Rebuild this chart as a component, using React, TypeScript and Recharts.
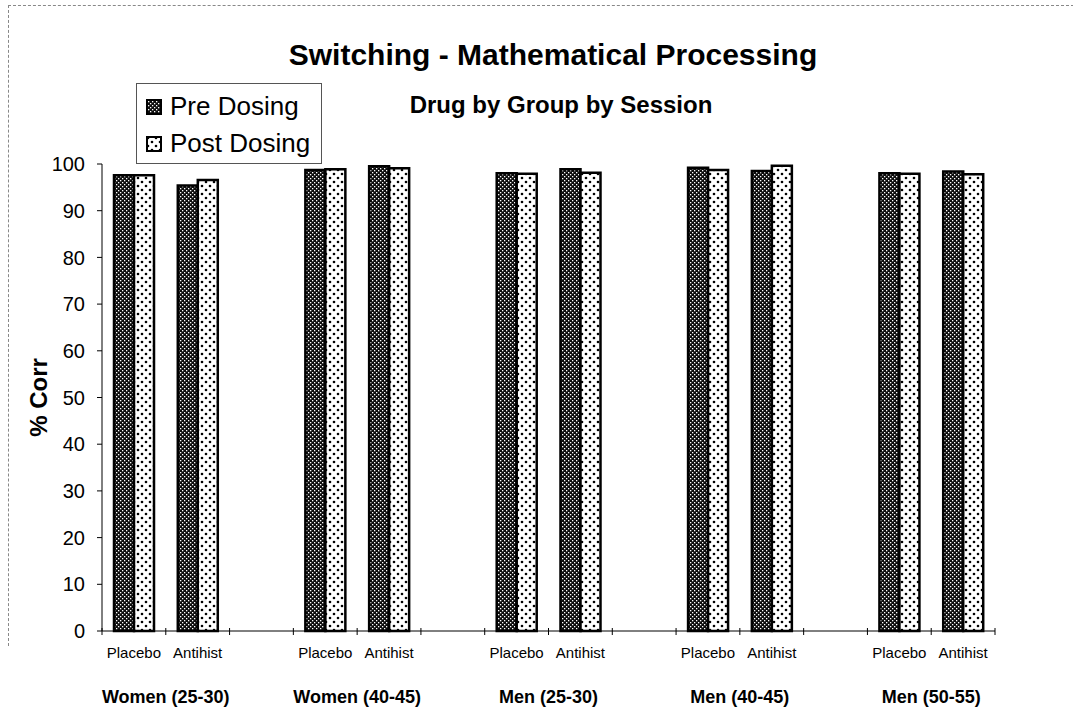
import { Bar, BarChart, Legend, XAxis, YAxis } from "recharts";

const groups = ["Women (25-30)", "Women (40-45)", "Men (25-30)", "Men (40-45)", "Men (50-55)"];
const drugs = ["Placebo", "Antihist"];
// values in order: group by group, Placebo then Antihist
const preDosing = [97.6, 95.4, 98.7, 99.5, 98.0, 98.9, 99.2, 98.5, 98.0, 98.4];
const postDosing = [97.6, 96.6, 98.9, 99.1, 97.9, 98.1, 98.7, 99.6, 97.9, 97.8];
const yTicks = [0, 10, 20, 30, 40, 50, 60, 70, 80, 90, 100];

type Row = { drug: string; group: string; pre: number | null; post: number | null };

// one blank category between groups, like the original sheet
const rows: Row[] = groups.flatMap((group, gi) => {
  const pair = drugs.map((drug, di) => ({
    drug,
    group,
    pre: preDosing[gi * 2 + di],
    post: postDosing[gi * 2 + di],
  }));
  return gi < groups.length - 1 ? [...pair, { drug: "", group: "", pre: null, post: null }] : pair;
});

const W = 1073;
const H = 728;
const PLOT_LEFT = 102;
const PLOT_RIGHT = 995;
const FONT = "Arial, 'Liberation Sans', sans-serif";

function XTick(props: any) {
  const { x, y, index } = props;
  const row = rows[index];
  const band = (PLOT_RIGHT - PLOT_LEFT) / rows.length;
  return (
    <g>
      <line x1={x - band / 2} x2={x - band / 2} y1={y - 3} y2={y + 4} stroke="#000" />
      {index === rows.length - 1 && (
        <line x1={x + band / 2} x2={x + band / 2} y1={y - 3} y2={y + 4} stroke="#000" />
      )}
      {row && row.drug && (
        <text x={x} y={y + 21} textAnchor="middle" dominantBaseline="central" fontSize={15} fill="#000">
          {row.drug}
        </text>
      )}
      {row && row.drug === drugs[0] && (
        <text
          x={x + band / 2}
          y={y + 66}
          textAnchor="middle"
          dominantBaseline="central"
          fontSize={18}
          fontWeight="bold"
          fill="#000"
        >
          {row.group}
        </text>
      )}
    </g>
  );
}

function Swatch({ fill }: { fill: string }) {
  return (
    <svg width={16} height={16} style={{ marginRight: 8, flex: "none" }}>
      <rect x={1} y={1} width={14} height={14} fill={fill} stroke="#000" strokeWidth={2} />
    </svg>
  );
}

function LegendBox() {
  const items = [
    { label: "Pre Dosing", fill: "url(#prePat)" },
    { label: "Post Dosing", fill: "url(#postPat)" },
  ];
  return (
    <div
      style={{
        width: 186,
        height: 81,
        boxSizing: "border-box",
        border: "1px solid #555",
        background: "#fff",
        padding: "4px 0 0 9px",
        fontFamily: FONT,
        fontSize: 26,
        color: "#000",
      }}
    >
      {items.map((it) => (
        <div key={it.label} style={{ display: "flex", alignItems: "center", height: 37, lineHeight: "37px" }}>
          <Swatch fill={it.fill} />
          {it.label}
        </div>
      ))}
    </div>
  );
}

export default function App() {
  return (
    <div
      style={{
        position: "absolute",
        left: 0,
        top: 0,
        width: W,
        height: H,
        background: "#fff",
        fontFamily: FONT,
      }}
    >
      <div
        style={{
          position: "absolute",
          left: 8,
          top: 5,
          width: W - 8,
          height: 640,
          borderTop: "1px dashed #888",
          borderLeft: "1px dashed #888",
        }}
      />
      <div
        style={{
          position: "absolute",
          left: 553,
          top: 40,
          transform: "translateX(-50%)",
          whiteSpace: "nowrap",
          fontSize: 30,
          fontWeight: "bold",
          lineHeight: "30px",
        }}
      >
        Switching - Mathematical Processing
      </div>
      <div
        style={{
          position: "absolute",
          left: 561,
          top: 93,
          transform: "translateX(-50%)",
          whiteSpace: "nowrap",
          fontSize: 24,
          fontWeight: "bold",
          lineHeight: "24px",
        }}
      >
        Drug by Group by Session
      </div>
      <BarChart
        width={W}
        height={H}
        data={rows}
        margin={{ top: 164, right: W - PLOT_RIGHT, bottom: 17, left: 42 }}
        barSize={20}
        barGap={0}
        style={{ position: "absolute", left: 0, top: 0 }}
      >
        <defs>
          <pattern id="prePat" width={4} height={4} patternUnits="userSpaceOnUse">
            <rect width={4} height={4} fill="#0d0d0d" />
            <rect x={0} y={0} width={1.3} height={1.3} fill="#fff" />
            <rect x={2} y={2} width={1.3} height={1.3} fill="#fff" />
          </pattern>
          <pattern id="postPat" width={8} height={8} patternUnits="userSpaceOnUse">
            <rect width={8} height={8} fill="#fff" />
            <circle cx={2} cy={2} r={1.3} fill="#000" />
            <circle cx={6} cy={6} r={1.3} fill="#000" />
          </pattern>
        </defs>
        <XAxis
          dataKey="drug"
          interval={0}
          height={80}
          tickSize={0}
          tickMargin={0}
          tickLine={false}
          axisLine={{ stroke: "#000" }}
          tick={<XTick />}
        />
        <YAxis
          width={60}
          domain={[0, 100]}
          ticks={yTicks}
          interval={0}
          tickSize={5}
          tickMargin={12}
          axisLine={{ stroke: "#000" }}
          tickLine={{ stroke: "#000" }}
          tick={{ fontSize: 20, fill: "#000", fontFamily: FONT }}
          label={{
            content: (p: any) => {
              const vb = p.viewBox || { x: 42, y: 164, height: 467 };
              const cx = vb.x - 4;
              const cy = vb.y + vb.height / 2;
              return (
                <text
                  x={cx}
                  y={cy}
                  transform={`rotate(-90, ${cx}, ${cy})`}
                  textAnchor="middle"
                  dominantBaseline="central"
                  fontSize={24}
                  fontWeight="bold"
                  fill="#000"
                  fontFamily={FONT}
                >
                  % Corr
                </text>
              );
            },
          }}
        />
        <Legend
          layout="vertical"
          align="center"
          verticalAlign="middle"
          wrapperStyle={{ left: 136, top: 83, width: 186 }}
          content={() => <LegendBox />}
        />
        <Bar
          dataKey="pre"
          name="Pre Dosing"
          fill="url(#prePat)"
          stroke="#000"
          strokeWidth={2.5}
          isAnimationActive={false}
        />
        <Bar
          dataKey="post"
          name="Post Dosing"
          fill="url(#postPat)"
          stroke="#000"
          strokeWidth={2.5}
          isAnimationActive={false}
        />
      </BarChart>
    </div>
  );
}
